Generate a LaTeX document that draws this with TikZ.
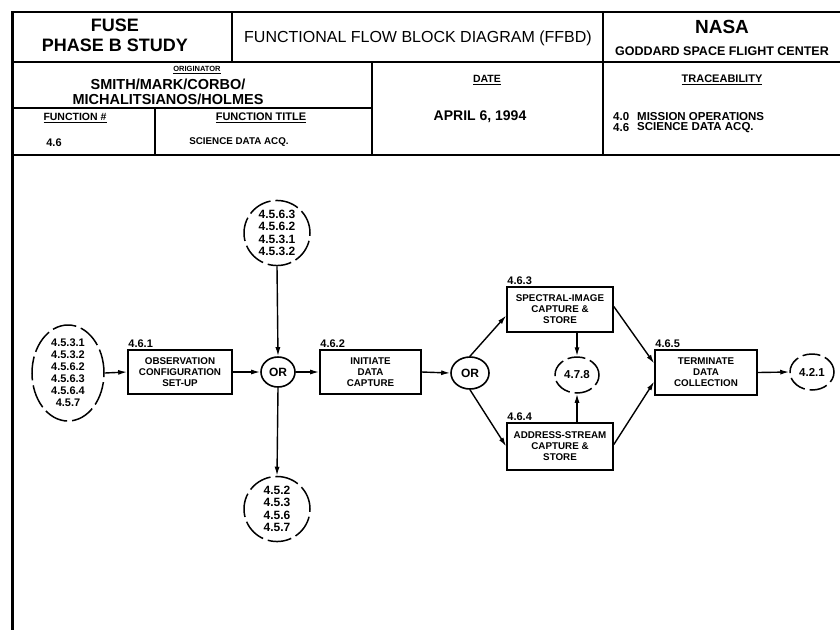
\documentclass[tikz,border=0pt]{standalone}
\usepackage{fontspec}
\setmainfont{Liberation Sans}
\usetikzlibrary{arrows.meta,shapes.geometric,calc}
\begin{document}
\begin{tikzpicture}[x=1pt,y=-1pt,
 frame/.style={line width=1.6pt},
 fbox/.style={draw,line width=1.6pt,rectangle,align=center,inner sep=0pt,font=\fontsize{9.8}{11}\selectfont\bfseries},
 refnode/.style={draw,ellipse,line width=1.5pt,dash pattern=on 24pt off 5pt,inner sep=0pt,align=center,font=\fontsize{11}{12}\selectfont\bfseries},
 ornode/.style={draw,ellipse,line width=1.6pt,inner sep=0pt,font=\fontsize{12}{13}\selectfont\bfseries},
 numlab/.style={anchor=south west,inner sep=1pt,font=\fontsize{11}{12}\selectfont\bfseries},
 arr/.style={line width=1.4pt,-{Latex[length=9pt,width=5pt]}},
 tbtext/.style={inner sep=0pt,align=center},
 trtext/.style={inner sep=0pt,anchor=west,font=\fontsize{11.5}{12}\selectfont\bfseries}
]
\useasboundingbox (0,0) rectangle (840,630);
\fill[white] (0,0) rectangle (840,630);

% ---------- title block ----------
\draw[frame] (12,12) -- (840,12);
\draw[line width=3pt] (12,11) -- (12,630);
\draw[frame] (12,62) -- (840,62);
\draw[frame] (12,155) -- (840,155);
\draw[frame] (232,12) -- (232,62);
\draw[frame] (603,12) -- (603,155);
\draw[frame] (372,62) -- (372,155);
\draw[frame] (12,108) -- (372,108);
\draw[frame] (155,108) -- (155,155);

\node[tbtext,font=\fontsize{18}{20}\selectfont\bfseries] (fuse) at (115,25) {FUSE};
\node[tbtext,font=\fontsize{18}{20}\selectfont\bfseries] (phase) at (115,45) {PHASE B STUDY};
\node[tbtext,font=\fontsize{16}{18}\selectfont] (ffbd) at (418,38) {FUNCTIONAL FLOW BLOCK DIAGRAM (FFBD)};
\node[tbtext,font=\fontsize{19}{20}\selectfont\bfseries] (nasa) at (722,27) {NASA};
\node[tbtext,font=\fontsize{12.5}{14}\selectfont\bfseries] (gsfc) at (722,51) {GODDARD SPACE FLIGHT CENTER};

\node[tbtext,font=\fontsize{7.5}{8}\selectfont\bfseries] (orig) at (197,70) {\underline{ORIGINATOR}};
\node[tbtext,font=\fontsize{14.5}{16}\selectfont\bfseries] (names1) at (168,84) {SMITH/MARK/CORBO/};
\node[tbtext,font=\fontsize{14.5}{16}\selectfont\bfseries] (names2) at (168,99) {MICHALITSIANOS/HOLMES};
\node[tbtext,font=\fontsize{10.5}{12}\selectfont\bfseries] (fnum) at (75,118) {\underline{FUNCTION \#}};
\node[tbtext,font=\fontsize{11}{12}\selectfont\bfseries] (fnumv) at (54,143) {4.6};
\node[tbtext,font=\fontsize{11}{12}\selectfont\bfseries] (ftitle) at (261,118) {\underline{FUNCTION TITLE}};
\node[tbtext,font=\fontsize{9.8}{11}\selectfont\bfseries] (ftitlev) at (239,142) {SCIENCE DATA ACQ.};
\node[tbtext,font=\fontsize{10.5}{12}\selectfont\bfseries] (date) at (487,80) {\underline{DATE}};
\node[tbtext,font=\fontsize{14}{16}\selectfont\bfseries] (datev) at (480,117) {APRIL 6, 1994};
\node[tbtext,font=\fontsize{11}{12}\selectfont\bfseries] (trace) at (722,80) {\underline{TRACEABILITY}};
\node[trtext] (tn1) at (613,117) {4.0};
\node[trtext] (tt1) at (637,117) {MISSION OPERATIONS};
\node[trtext] (tn2) at (613,128) {4.6};
\node[trtext] (tt2) at (637,128) {SCIENCE DATA ACQ.};

% ---------- diagram ----------
\node[refnode,minimum width=72,minimum height=96] (e1) at (68,373)
  {4.5.3.1\\4.5.3.2\\4.5.6.2\\4.5.6.3\\4.5.6.4\\4.5.7};
\node[refnode,minimum width=66,minimum height=58,font=\fontsize{12}{12.5}\selectfont\bfseries] (e2) at (277,233)
  {4.5.6.3\\4.5.6.2\\4.5.3.1\\4.5.3.2};
\node[refnode,minimum width=66,minimum height=62,font=\fontsize{12}{12.5}\selectfont\bfseries] (e3) at (277,509)
  {4.5.2\\4.5.3\\4.5.6\\4.5.7};
\node[ornode,minimum width=34,minimum height=30] (or1) at (278,372) {OR};
\node[ornode,minimum width=38,minimum height=32] (or2) at (470,373) {OR};
\node[refnode,minimum width=44,minimum height=36,dash pattern=on 18pt off 5pt,font=\fontsize{11.5}{12}\selectfont\bfseries] (e478) at (577,375) {4.7.8};
\node[refnode,minimum width=44,minimum height=36,dash pattern=on 18pt off 5pt,font=\fontsize{11.5}{12}\selectfont\bfseries] (e421) at (812,372) {4.2.1};

\node[fbox,minimum width=104,minimum height=44] (b1) at (180,372) {OBSERVATION\\CONFIGURATION\\SET-UP};
\node[fbox,minimum width=101,minimum height=44] (b2) at (370.5,372) {INITIATE\\DATA\\CAPTURE};
\node[fbox,minimum width=106,minimum height=45] (b3) at (560,309.5) {SPECTRAL-IMAGE\\CAPTURE \&\\STORE};
\node[fbox,minimum width=106,minimum height=47] (b4) at (560,446.5) {ADDRESS-STREAM\\CAPTURE \&\\STORE};
\node[fbox,minimum width=102,minimum height=45] (b5) at (706,372.5) {TERMINATE\\DATA\\COLLECTION};

\node[numlab] (l1) at (b1.north west) {4.6.1};
\node[numlab] (l2) at (b2.north west) {4.6.2};
\node[numlab] (l3) at (b3.north west) {4.6.3};
\node[numlab] (l4) at (b4.north west) {4.6.4};
\node[numlab] (l5) at (b5.north west) {4.6.5};

\draw[arr] (e1.east) -- (b1.west);
\draw[arr] (b1.east) -- (or1.west);
\draw[arr] (e2.south) -- (or1.north);
\draw[arr] (or1.south) -- (e3.north);
\draw[arr] (or1.east) -- (b2.west);
\draw[arr] (b2.east) -- (or2.west);
\draw[arr] (or2.north) -- ($(b3.west)+(0,6)$);
\draw[arr] (or2.south) -- (b4.west);
\draw[arr] (e478.north |- b3.south) -- (e478.north);
\draw[arr] (e478.south |- b4.north) -- (e478.south);
\draw[arr] ($(b3.east)+(0,-3)$) -- ($(b5.west)+(0,-9)$);
\draw[arr] ($(b4.east)+(0,-2)$) -- ($(b5.west)+(0,9)$);
\draw[arr] (b5.east) -- (e421.west);
\end{tikzpicture}
\end{document}
